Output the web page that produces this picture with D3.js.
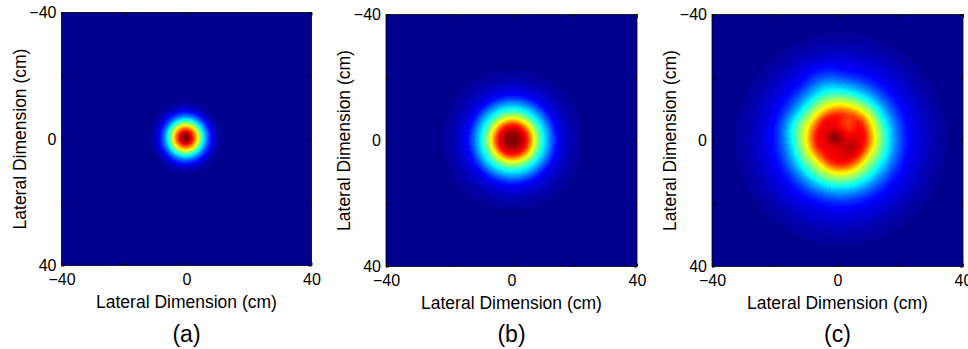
<!DOCTYPE html>
<html>
<head>
<meta charset="utf-8">
<script src="https://cdn.jsdelivr.net/npm/d3@7"></script>
<style>
  body { margin: 0; background: #fff; }
  svg { display: block; font-family: "Liberation Sans", Arial, Helvetica, sans-serif; }
</style>
</head>
<body>
<svg id="chart" width="968" height="349"></svg>
<script>
// radial intensity profiles (normalised). radius in cm
var radiusA = [0, 1, 2, 3, 4, 5, 6, 7, 8, 9, 10, 11, 12, 14];
var levelA  = [1.00, 0.97, 0.88, 0.75, 0.61, 0.46, 0.33, 0.22, 0.14, 0.08, 0.04, 0.02, 0.01, 0];

var radiusB = [0, 1, 2, 3, 4, 5, 6, 7, 8, 9, 10, 11, 12, 13, 14, 15, 16, 18, 20, 23, 26];
var levelB  = [1.00, 0.99, 0.97, 0.93, 0.89, 0.82, 0.71, 0.60, 0.51, 0.43, 0.36, 0.30, 0.24, 0.18, 0.13, 0.10, 0.08, 0.05, 0.03, 0.01, 0];

var radiusC = [0, 2, 4, 6, 7, 8, 9, 10, 11, 12, 13, 14, 15, 16, 18, 20, 22, 24, 26, 28, 30, 33, 36, 40];
var levelC  = [0.895, 0.892, 0.888, 0.882, 0.872, 0.84, 0.77, 0.69, 0.61, 0.55, 0.49, 0.43, 0.375, 0.32, 0.23, 0.16, 0.115, 0.09, 0.07, 0.05, 0.035, 0.018, 0.005, 0];

// beam centres (cm)
var centreA = [-0.3, -0.4];
var centreB = [0.3, -0.2];
var centreC = [1.0, -0.5];

// local irregularities of panel (c): position (cm), height, spread (cm)
var bumpX    = [-0.8, 4.5, 3.5, -4.5, -14, 9, -6, 8];
var bumpY    = [-1.0, 2.5, -5.5, -18, -4, 6, 6, -7];
var bumpAmp  = [0.09, 0.05, -0.08, 0.05, 0.04, -0.04, -0.04, 0.03];
var bumpSize = [1.6, 2.0, 2.3, 4, 3, 3, 2.5, 2.5];

var tickValues = [-40, -20, 0, 20, 40];
var tickLabels = [-40, 0, 40];
var axisTitle = "Lateral Dimension (cm)";
var panelNames = ["(a)", "(b)", "(c)"];

var panels = [
  { left: 61.5, top: 12.5, w: 250, h: 253, radius: radiusA, level: levelA, centre: centreA, bumps: false },
  { left: 386,  top: 14.5, w: 251, h: 252, radius: radiusB, level: levelB, centre: centreB, bumps: false },
  { left: 712,  top: 14.5, w: 251, h: 252, radius: radiusC, level: levelC, centre: centreC, bumps: true }
];

// matlab jet(64)
function jetColors(m) {
  var n = Math.ceil(m / 4);
  var u = [];
  for (var i = 1; i <= n; i++) u.push(i / n);
  for (var i = 1; i < n; i++) u.push(1);
  for (var i = n; i >= 1; i--) u.push(i / n);
  var g0 = Math.ceil(n / 2) - (m % 4 === 1 ? 1 : 0);
  var rgb = d3.range(m).map(function () { return [0, 0, 0]; });
  u.forEach(function (val, k) {
    var g = g0 + k + 1, r = g + n, b = g - n;
    if (r <= m) rgb[r - 1][0] = val;
    if (g <= m) rgb[g - 1][1] = val;
    if (b > 0) rgb[b - 1][2] = val;
  });
  return rgb.map(function (c) { return d3.rgb(Math.round(c[0] * 255), Math.round(c[1] * 255), Math.round(c[2] * 255)); });
}

var colour = d3.scaleQuantize().domain([0, 1]).range(jetColors(64));

var svg = d3.select("#chart");

panels.forEach(function (p, idx) {
  var x = d3.scaleLinear().domain([-40, 40]).range([0, p.w]);
  var y = d3.scaleLinear().domain([-40, 40]).range([0, p.h]);
  var profile = d3.scaleLinear().domain(p.radius).range(p.level).clamp(true);

  // heat map into a canvas, then into the svg
  var cw = Math.round(p.w), ch = Math.round(p.h);
  var canvas = document.createElement("canvas");
  canvas.width = cw; canvas.height = ch;
  var ctx = canvas.getContext("2d");
  var img = ctx.createImageData(cw, ch);
  for (var j = 0; j < ch; j++) {
    for (var i = 0; i < cw; i++) {
      var cx = x.invert(i + 0.5), cy = y.invert(j + 0.5);
      var dx = cx - p.centre[0], dy = cy - p.centre[1];
      var v = profile(Math.sqrt(dx * dx + dy * dy));
      if (p.bumps) {
        for (var k = 0; k < bumpX.length; k++) {
          var bx = cx - bumpX[k], by = cy - bumpY[k];
          v += bumpAmp[k] * Math.exp(-(bx * bx + by * by) / (2 * bumpSize[k] * bumpSize[k]));
        }
      }
      v = Math.max(0, Math.min(0.9999, v));
      var c = colour(v);
      var o = (j * cw + i) * 4;
      img.data[o] = c.r; img.data[o + 1] = c.g; img.data[o + 2] = c.b; img.data[o + 3] = 255;
    }
  }
  ctx.putImageData(img, 0, 0);

  var g = svg.append("g").attr("transform", "translate(" + p.left + "," + p.top + ")");

  g.append("image")
    .attr("href", canvas.toDataURL())
    .attr("width", p.w).attr("height", p.h)
    .attr("preserveAspectRatio", "none");

  var fmt = function (d) { return tickLabels.indexOf(d) >= 0 ? d3.format("d")(d) : ""; };

  var left = g.append("g")
    .call(d3.axisLeft(y).tickValues(tickValues).tickFormat(fmt).tickSizeInner(-3).tickSizeOuter(0).tickPadding(5));
  var bottom = g.append("g").attr("transform", "translate(0," + p.h + ")")
    .call(d3.axisBottom(x).tickValues(tickValues).tickFormat(fmt).tickSizeInner(-3).tickSizeOuter(0).tickPadding(8));
  var top = g.append("g")
    .call(d3.axisTop(x).tickValues(tickValues).tickFormat("").tickSizeInner(-3).tickSizeOuter(0));
  var right = g.append("g").attr("transform", "translate(" + p.w + ",0)")
    .call(d3.axisRight(y).tickValues(tickValues).tickFormat("").tickSizeInner(-3).tickSizeOuter(0));

  [left, bottom, top, right].forEach(function (a) {
    a.select(".domain").remove();
    a.selectAll("line").attr("stroke", "#000");
    a.selectAll("text").attr("fill", "#000").style("font-size", "16px").attr("font-family", null);
  });

  g.append("rect")
    .attr("width", p.w).attr("height", p.h)
    .attr("fill", "none").attr("stroke", "#000").attr("stroke-width", 0.8);

  g.append("text")
    .attr("x", p.w / 2).attr("y", p.h + 42)
    .attr("text-anchor", "middle")
    .style("font-size", "17.5px")
    .text(axisTitle);

  g.append("text")
    .attr("transform", "translate(" + (-42) + "," + (p.h / 2) + ") rotate(-90)")
    .attr("text-anchor", "middle")
    .attr("dy", "0.35em")
    .style("font-size", "17.5px")
    .text(axisTitle);

  svg.append("text")
    .attr("x", p.left + p.w / 2).attr("y", 342)
    .attr("text-anchor", "middle")
    .style("font-size", "23px")
    .text(panelNames[idx]);
});
</script>
</body>
</html>
